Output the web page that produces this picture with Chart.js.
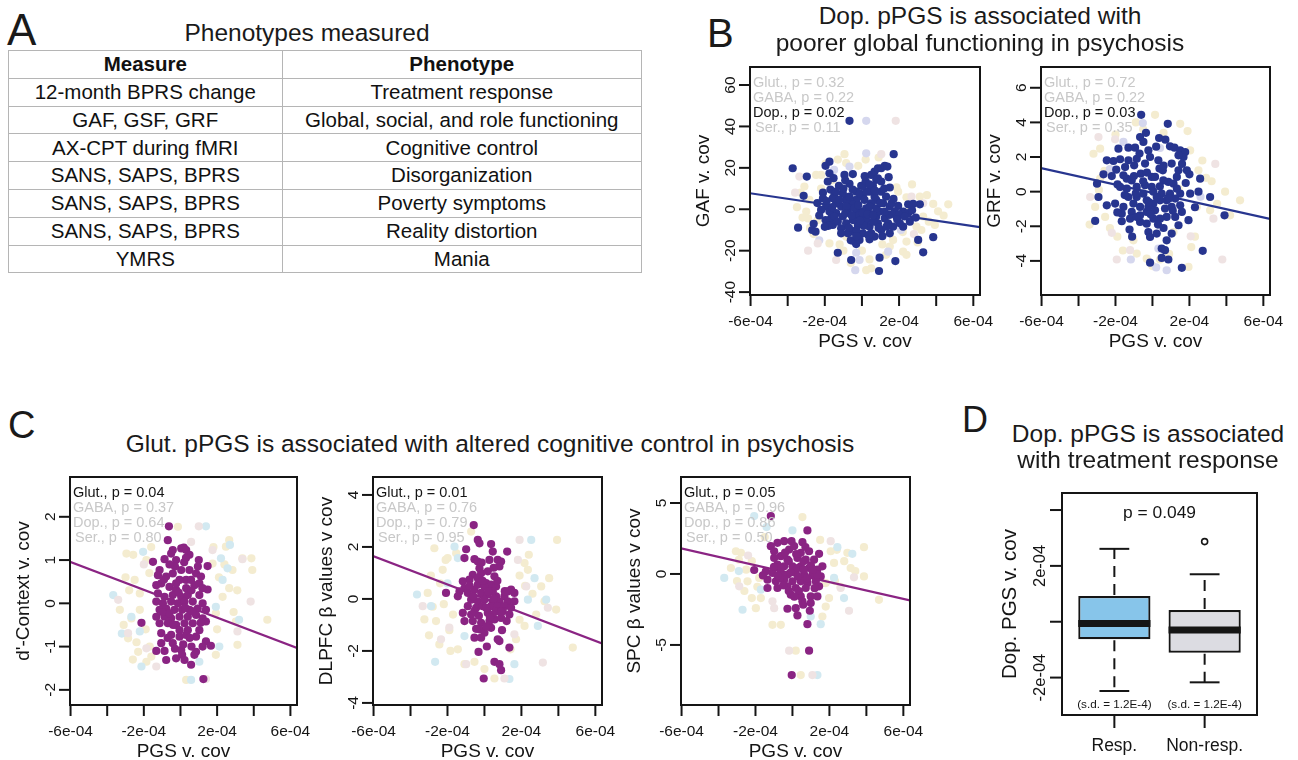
<!DOCTYPE html>
<html><head><meta charset="utf-8">
<script src="https://cdn.jsdelivr.net/npm/chart.js@4.4.1/dist/chart.umd.min.js"></script>
<style>
html,body{margin:0;padding:0;background:#fff;}
#page{position:relative;width:1298px;height:760px;overflow:hidden;font-family:"Liberation Sans",Arial,Helvetica,sans-serif;color:#1a1a1a;}
.t{position:absolute;white-space:nowrap;line-height:1;}
canvas{position:absolute;}
#tbl{position:absolute;left:8px;top:50px;width:634px;border-collapse:collapse;font-size:20.5px;color:#111;}
#tbl td{border:1.5px solid #b5b5b5;text-align:center;padding:0;height:26.8px;line-height:1;}
</style></head>
<body><div id="page">
<table id="tbl"><colgroup><col style="width:274px"><col style="width:360px"></colgroup><tbody id="tb"></tbody></table>
<canvas id="cGAF" width="320" height="305" style="left:680px;top:55px"></canvas>
<canvas id="cGRF" width="320" height="305" style="left:971px;top:55px"></canvas>
<canvas id="cC1" width="320" height="295" style="left:0px;top:465px"></canvas>
<canvas id="cC2" width="320" height="295" style="left:303px;top:465px"></canvas>
<canvas id="cC3" width="320" height="295" style="left:611px;top:465px"></canvas>
<canvas id="cD" width="338" height="280" style="left:960px;top:480px"></canvas>
</div>
<script>
// ---------------- DATA ----------------
const tableHeader = ['Measure', 'Phenotype'];
const measures = ['12-month BPRS change', 'GAF, GSF, GRF', 'AX-CPT during fMRI', 'SANS, SAPS, BPRS', 'SANS, SAPS, BPRS', 'SANS, SAPS, BPRS', 'YMRS'];
const phenotypes = ['Treatment response', 'Global, social, and role functioning', 'Cognitive control', 'Disorganization', 'Poverty symptoms', 'Reality distortion', 'Mania'];

const pathwayNames = ['Glut.', 'GABA', 'Dop.', 'Ser.'];
const pGAF = ['0.32', '0.22', '0.02', '0.11'];
const pGRF = ['0.72', '0.22', '0.03', '0.35'];
const pC1 = ['0.04', '0.37', '0.64', '0.80'];
const pC2 = ['0.01', '0.76', '0.79', '0.95'];
const pC3 = ['0.05', '0.96', '0.86', '0.50'];

const PGS_UNIT = 1e-4; // x values below are in units of 1e-4
const xTickVals = [-6e-4, -4e-4, -2e-4, 0, 2e-4, 4e-4, 6e-4];
const xTickLabels = ['-6e-04', '', '-2e-04', '', '2e-04', '', '6e-04'];
const xRange = [-6.03e-4, 6.36e-4];

// Panel B: GAF
const gafYTicks = [-40, -20, 0, 20, 40, 60];
const gafYRange = [-41.4, 68.7];
const gafDop = [[-3.73,19.8],[-2.97,15.8],[-3.14,6.5],[-3.44,-8.9],[-2.68,-10],[-2.5,-10.8],[-1.96,21],[-1.75,23],[-2.1,8],[-1.75,17.4],[-1.53,15],[-1.48,7],[-1.24,11.3],[-1.84,13.4],[-0.94,16.6],[-0.67,12.3],[-0.49,17],[-0.67,42.7],[-0.04,11.3],[0.5,16.6],[0.68,18.2],[0.86,19.8],[1.04,19.8],[1.23,21],[1.37,20.6],[1.71,26.6],[1.44,15.5],[0.77,14.2],[0.41,8.5],[-0.31,8.5],[0.05,6.1],[-1.3,-21],[-0.58,-24.5],[-0.31,-16.8],[-0.4,-15.6],[0.95,-23.4],[0.92,-29.8],[1.8,-25],[3.03,-14.8],[3.3,-20.8],[3.84,-13.5],[3.12,2.4],[2.76,2.6],[2.49,2.4],[2.58,-6],[2.22,-8.4],[1.86,-3.5],[1.95,1.6],[1.5,1.3],[1.23,-4.4],[1.04,-10],[0.68,-13.2],[0.41,-14.5],[0.23,-5.2],[-0.04,-1.1],[-0.31,4.5],[-0.58,2.9],[-0.85,4.5],[-1.12,1.3],[-1.39,-1.9],[-1.66,-4.4],[-1.93,1.3],[-1.96,-5.2],[-1.57,-7.6],[-1.12,-9.2],[-0.85,-6.8],[-0.49,-10.8],[-0.22,-7.6],[0.05,-11.6],[0.41,-8.4],[0.77,-3.5],[0.95,-1.1],[1.14,2.9],[0.77,4.5],[0.5,2.9],[0.23,0.5],[-0.13,-3.5],[-0.49,-5.2],[-0.76,-1.1],[-1.03,-3.5],[-1.39,2.9],[-1.75,-1.1],[-2.2,-0.3],[-2.1,5.3],[-1.57,5.3],[-1.03,7.7],[-0.67,6.1],[-0.13,7.7],[0.14,4.5],[0.68,6.1],[1.04,8.5],[1.3,6.1],[1.5,-2.7],[1.77,-1.1],[2.22,-1.1],[2.49,-1.9],[2.04,-6.8],[1.68,-8.4],[1.41,-6.8],[1.5,-11.6],[0.5,-11.6],[-0.13,-14.8],[-0.76,-11.6],[-1.12,-11.6],[0.23,8.5],[0.05,11.3],[0.59,11.3],[0.86,14.9],[1.04,13.4],[0.41,1.3],[-0.31,-1.9],[0.05,-1.9],[-0.85,1.3],[-1.21,4.5],[-1.48,-3.5],[-0.4,0.5],[0.77,0.5],[1.23,-1.1],[1.32,-8.4],[0.86,-6.8],[-0.2,2],[0.3,-2.5],[-0.9,-2],[0.6,-6],[1.6,3],[-1.7,9.5],[-0.3,-10],[0.2,13.5],[-1.0,10],[2.0,-2.5],[-2.4,3],[-0.6,-15],[-1.8,-8],[-1.3,-6],[-0.7,-9],[0.1,-8],[0.9,-9],[1.9,-5],[2.3,-3.5],[2.7,-0.5],[-2.3,-3],[-2.0,-8.5],[-0.5,9.5],[0.4,12],[1.2,10],[1.7,5],[-1.4,8.5],[-0.9,14],[0.15,16],[-0.1,-5.5],[0.6,-3],[1.0,3],[-0.55,-3],[-1.6,1],[0.35,-12.5],[1.1,-13],[2.9,-4],[-2.6,-7],[-0.3,-13],[0.7,9],[-1.9,4],[1.5,10.5]];
const gafGABA = [[-0.94,26.6],[-0.85,22.3],[-2.47,16.6],[-1.96,22],[-3.1,11],[-2.83,4.5],[1.86,10.6],[1.95,8.5],[2.4,5.8],[3.12,6.1],[3.84,2.6],[4.65,2.4],[3.93,-7.6],[3.3,-3.5],[2.94,-8.4],[2.4,-15.6],[2.22,-20.5],[2.4,-22],[0.41,-24.2],[0.23,-29.4],[0.5,-28.5],[-1.75,-16.5],[-0.85,-13.2],[-3.0,-1.1],[-2.9,-4.4],[-2.38,-5.2],[1.5,-18],[1.68,-14.8],[-2.2,16.6],[-3.3,8],[-1.3,24],[2.7,12],[0.9,25],[-0.2,21],[-2.6,-12],[-1.0,-20],[1.1,-17],[3.6,-6],[4.1,-1],[-3.5,1],[-2.8,-9],[-2.2,10],[2.2,-11],[3.0,-16],[3.5,6.8],[-1.2,-17],[0.0,-20],[1.3,-22],[-3.2,-4],[2.6,1],[3.2,-10],[-1.6,14],[0.2,24],[-0.6,-26],[4.4,-3]];
const gafGlut = [[0.23,42.7],[0.23,27],[-0.67,20.6],[-0.31,-21],[-0.13,-24.5],[1.41,-20.5],[-0.36,-29.4],[-1.5,19],[2.1,-10],[-2.3,-15]];
const gafSer = [[-3.37,15.8],[1.04,26.6],[1.82,42.7],[-2.38,-16.5],[-1.39,-24.5],[2.67,6.1],[3.3,2.9],[-3.6,8],[2.8,-12],[-2.9,-20]];
const gafFit = [[-6.03,7.75],[6.36,-8.65]];

// Panel B: GRF
const grfYTicks = [-4, -2, 0, 2, 4, 6];
const grfYRange = [-5.97, 7.2];
const grfDop = [[-0.61,4.44],[0.83,3.92],[-0.67,3.15],[-0.49,2.87],[0.36,3.1],[-1.84,2.48],[-1.3,2.54],[-0.94,2.54],[-2.47,1.81],[-2.11,1.77],[-1.75,1.87],[-1.3,1.81],[-0.85,1.9],[-0.13,2.0],[-0.22,2.38],[-0.4,1.62],[0.95,2.62],[1.19,2.54],[1.5,2.38],[1.77,2.29],[1.68,2.0],[1.41,2.1],[-2.65,1.0],[-1.96,1.27],[-1.48,1.42],[-0.99,1.52],[-1.39,0.75],[-0.63,1.04],[-0.04,0.85],[0.38,1.33],[0.56,1.23],[1.41,1.23],[1.86,1.23],[2.58,0.75],[2.49,0],[3.12,-0.31],[2.04,-0.12],[1.5,-0.12],[1.14,0.46],[0.86,0.56],[0.59,0.65],[-0.04,0.27],[-0.4,0.37],[-0.85,0.27],[-1.39,0.17],[-1.89,0.42],[-1.75,0.27],[-1.3,-0.31],[-0.85,-0.31],[-0.49,-0.12],[0.05,0],[0.5,-0.12],[0.95,-0.12],[1.32,0.17],[1.23,-0.4],[0.77,-0.5],[0.41,-0.5],[0.05,-0.69],[-0.31,-0.5],[-0.67,-0.88],[-1.03,-0.69],[-1.57,-0.88],[-2.02,-0.69],[-2.92,-0.31],[-3.1,-1.69],[-2.47,-0.79],[-1.66,-1.27],[-1.12,-1.17],[-0.67,-1.37],[-0.31,-1.17],[0.14,-1.08],[0.68,-0.98],[1.04,-0.88],[1.5,-0.79],[1.59,-1.17],[1.95,-1.65],[1.23,-1.46],[0.77,-1.46],[0.41,-1.56],[0.05,-1.56],[-0.31,-1.85],[-0.67,-1.75],[-1.21,-1.56],[-1.66,-1.71],[-1.24,-2.19],[-0.85,-1.46],[-0.22,-2.33],[-0.13,-2.62],[0.23,-2.42],[0.77,-2.81],[0.5,-3.29],[0.68,-3.38],[0.5,-3.83],[0.86,-3.92],[-0.13,-4.1],[1.59,-4.4],[2.72,-3.42],[3.9,-1.37],[1.41,-1.94],[1.04,-2.42],[-3.0,0.46],[-1.57,0.94],[0.32,1.81],[1.04,1.62],[0.14,0.85],[1.32,0.85],[-1.12,0.65],[0.23,-0.31],[-0.22,-0.88],[-0.3,1.1],[0.6,1.5],[-1.0,0.9],[-0.2,-0.6],[0.3,-1.9],[-0.9,-0.1],[0.9,-0.4],[1.8,0.5],[-1.5,-0.2],[-2.2,0.9],[0.2,2.6],[-0.7,2.2],[1.1,-1.1],[-0.1,-1.3],[0.6,-2.1],[-1.9,-1.2],[2.3,-0.9],[-0.5,0.6],[0.4,0.3],[1.6,1.6],[-1.1,-2.6],[2.0,1.0],[-0.35,3.4],[0.7,3.0]];
const grfGABA = [[0.14,4.44],[1.5,3.92],[-3.19,2.19],[-2.83,2.48],[2.04,2.38],[2.49,1.23],[3.93,0],[4.74,-0.5],[4.2,-1.37],[3.12,-1.08],[2.4,-0.88],[-2.56,-1.46],[-3.1,-0.88],[-2.83,0.75],[-1.03,-2.81],[-0.85,-3.58],[1.14,-2.33],[1.95,-4.35],[-0.31,-3.87],[0.41,-3.92],[1.41,0.17],[-2.0,3.3],[0.6,3.4],[2.9,0.8],[-3.4,-1.9],[-1.9,-2.6],[2.3,-2.6],[-0.5,3.6],[-2.6,1.2],[-2.9,0.1],[2.7,1.8],[3.5,-0.7],[-1.6,-3.4],[0.9,-3.6],[2.1,-3.2],[-0.9,4.0],[1.9,3.5],[3.2,0.6],[-2.3,-2.1],[0.0,-4.3]];
const grfGlut = [[-0.52,3.96],[-1.57,2.87],[0.41,2.52],[0.32,-3.29],[-1.17,-3.92],[0.2,-4.38],[0.77,-4.54],[-2.3,1.3],[2.6,-0.3]];
const grfSer = [[-3.37,-0.31],[-2.92,3.15],[-2.02,3.02],[-2.2,-2.38],[-1.93,-3.92],[2.07,-2.58],[3.3,-1.56],[3.78,-3.92],[-1.21,-3.38],[3.4,1.6]];
const grfFit = [[-6.03,1.36],[6.36,-1.57]];

// Panel C1: d'-Context
const c1YTicks = [-2, -1, 0, 1, 2];
const c1YRange = [-2.35, 2.92];
const c1Glut = [[-0.63,1.78],[-0.69,1.46],[-1.5,0.96],[-0.87,1.02],[-1.14,0.77],[-0.51,1.15],[-0.24,1.0],[0.04,1.27],[0.18,1.29],[0.31,1.23],[-0.42,1.23],[1.0,1.0],[0.49,1.12],[1.48,0.86],[-1.23,0.65],[-0.78,0.62],[-0.42,0.69],[0.04,0.77],[0.49,0.77],[0.85,0.69],[1.12,0.62],[0.31,0.54],[-0.05,0.54],[-1.05,0.46],[-0.6,0.38],[-0.24,0.31],[0.31,0.35],[0.76,0.42],[1.48,0.32],[-1.23,0.23],[-0.87,0.15],[-0.42,0.19],[0.04,0.15],[0.4,0.19],[1.03,0.19],[-1.32,0.04],[-0.96,0],[-0.51,0.04],[-0.14,0],[0.22,0.04],[0.67,0.04],[1.21,0],[-1.14,-0.15],[-0.78,-0.12],[-0.33,-0.15],[0.09,-0.15],[0.49,-0.15],[0.94,-0.12],[1.39,-0.15],[-1.32,-0.31],[-0.87,-0.31],[-0.51,-0.35],[-0.05,-0.31],[0.4,-0.31],[0.85,-0.27],[1.21,-0.35],[-1.14,-0.46],[-0.69,-0.46],[-0.24,-0.5],[0.22,-0.46],[0.67,-0.46],[1.39,-0.42],[-2.13,-0.45],[-0.05,-0.62],[0.4,-0.62],[1.03,-0.62],[-1.05,-0.69],[-0.51,-0.73],[-0.05,-0.77],[0.31,-0.73],[0.85,-0.77],[1.39,-0.88],[1.66,-0.98],[1.21,-1.0],[-1.05,-0.92],[-1.32,-1.1],[-0.87,-1.1],[-0.78,-1.31],[-0.24,-1.27],[0.04,-1.08],[0.09,-1.19],[0.22,-1.31],[0.58,-1.42],[0.85,-1.12],[0.76,-1.19],[1.25,-1.75],[-0.42,-0.92],[-0.6,-0.23],[-0.24,0.46],[0.58,0.54],[1.03,0.46],[0.67,-0.19],[-1.32,0.42],[-0.3,0.85],[0.2,0.95],[-0.9,0.55],[0.6,0.3],[-0.4,-0.5],[0.15,-0.95],[0.6,-1.0],[-0.7,-0.8],[1.2,0.35],[-0.1,0.25],[0.5,-0.8],[-1.0,-0.2],[0.95,0.85],[-0.3,-1.05],[0.3,1.05],[-0.6,0.9],[1.1,-0.45],[0.25,-0.1]];
const c1GABA = [[-2.95,1.15],[-2.58,1.12],[-1.86,1.0],[-2.5,0.54],[-2.22,0.23],[-3.31,-0.15],[-2.68,-0.35],[-2.86,-0.81],[-2.31,-1.12],[-1.86,-1.35],[-1.68,-1.0],[-1.59,-1.23],[-0.14,1.77],[1.75,0.92],[2.66,1.46],[2.48,1.31],[2.84,0.77],[3.38,1.04],[3.87,1.04],[3.92,0.77],[2.66,0.35],[2.3,0.15],[3.02,-0.42],[3.11,-0.96],[1.93,-1.19],[4.74,-0.38],[0.31,-1.77],[-2.22,-0.15],[1.93,-0.23],[-3.0,0.6],[-1.9,-0.6],[2.1,0.6],[-1.6,1.3],[-2.8,0.3],[-3.1,-0.5],[-2.4,-0.9],[2.4,0.9],[3.1,0.3],[2.0,-0.6],[-1.7,0.7],[2.9,-0.2],[-2.6,-1.3],[1.8,1.3]];
const c1Ser = [[1.39,1.78],[-2.04,1.19],[-3.67,0.19],[-2.68,-0.31],[-2.22,-0.65],[-2.13,-1.46],[2.57,0.81],[2.21,1.04],[2.3,0.54],[3.2,-0.38],[2.12,-1.0],[0.58,-1.77],[1.03,-1.35],[1.93,-0.08],[2.7,1.35],[-3.2,-0.7]];
const c1Dop = [[1.0,1.78],[0.58,1.42],[1.75,1.23],[3.38,1.02],[-3.4,0.08],[-2.86,-0.69],[-1.32,-1.46],[1.39,-1.75],[3.11,-0.65],[3.83,0.04],[-1.86,-1.04],[-2.0,0.9]];
const c1Fit = [[-6.03,0.96],[6.36,-1.03]];

// Panel C2: DLPFC
const c2YTicks = [-4, -2, 0, 2, 4];
const c2YRange = [-4.08, 4.69];
const c2Glut = [[-0.58,2.84],[-0.36,2.27],[-0.27,2.14],[0.36,2.11],[0.45,1.82],[1.23,1.82],[-0.99,1.91],[-1.08,1.57],[-0.54,1.53],[-0.36,1.44],[0.27,1.5],[0.72,1.5],[0.9,1.44],[0.81,1.25],[-0.27,1.18],[-0.18,0.99],[0.18,1.06],[0.54,0.87],[-0.63,0.93],[-0.81,0.74],[-1.17,0.68],[-0.36,0.55],[0.09,0.61],[0.36,0.55],[0.63,0.48],[-1.08,0.42],[-1.35,0.29],[-2.08,0.23],[-1.44,0.1],[-0.9,0.23],[-0.54,0.36],[-0.18,0.23],[0.18,0.17],[0.63,0.1],[1.08,0.1],[1.44,0.36],[1.26,0.29],[1.62,0.23],[-0.72,-0.03],[-0.36,-0.09],[0,-0.03],[0.45,-0.09],[0.81,-0.09],[1.26,-0.09],[1.62,-0.09],[-0.9,-0.28],[-0.45,-0.34],[-0.09,-0.28],[0.36,-0.28],[0.72,-0.28],[1.08,-0.28],[1.44,-0.34],[-1.17,-0.54],[-0.72,-0.6],[0.18,-0.54],[0.63,-0.47],[0.99,-0.47],[1.35,-0.6],[-1.08,-0.85],[-0.63,-0.85],[-0.18,-0.92],[0.27,-0.85],[0.54,-0.79],[0.9,-0.73],[0.36,-1.11],[-0.27,-1.17],[0,-1.3],[-0.54,-1.49],[-0.18,-1.49],[0.72,-1.55],[0.81,-1.62],[1.35,-1.87],[-0.32,-2.04],[0.13,-1.83],[0.54,-2.42],[0.81,-2.51],[0.9,-2.74],[-0.04,-3.06],[0,0.48],[-0.36,0.8],[0.45,0.29],[0.09,-0.34],[0.45,-0.6],[-0.54,-0.47],[0.2,0.3],[-0.1,0.7],[0.5,0.0],[-0.6,0.1],[0.9,-0.5],[0.3,-0.7],[-0.3,-0.65],[1.1,0.3],[0.7,0.7],[-0.8,0.5],[0.1,-1.05],[1.2,-0.85],[-0.15,1.4],[0.5,1.2],[-0.45,-1.15],[0.95,-1.2]];
const c2GABA = [[-2.71,1.95],[-1.99,1.57],[-2.26,1.12],[-3.07,0.23],[-3.25,-0.79],[-2.62,-0.85],[-2.44,-1.75],[-1.84,-2.0],[-1.44,-1.94],[-1.08,-2.51],[-0.54,-2.42],[0,-2.7],[0.54,-3.06],[1.41,-1.94],[1.71,-1.55],[2.17,-1.04],[2.17,1.38],[2.35,1.12],[3.07,0.48],[3.25,-0.09],[3.88,-0.41],[3.93,2.27],[4.78,-1.87],[-0.72,2.59],[-1.53,1.76],[-2.9,0.9],[-1.7,-0.6],[2.6,0.2],[1.9,0.9],[-2.2,-0.2],[-2.4,0.6],[-2.8,-0.3],[2.2,0.5],[2.8,-0.6],[-1.9,-1.2],[1.9,-0.8],[2.4,1.7],[-2.1,1.5],[3.5,0.8],[-3.0,-1.4]];
const c2Ser = [[2.53,2.27],[-1.62,2.01],[-1.44,1.57],[-3.65,0.17],[-2.89,-0.28],[-2.67,-2.42],[-1.08,-1.43],[1.62,-2.51],[1.35,-3.08],[2.71,0.8],[3.34,-0.03],[2.89,-1.04],[2.35,-0.03],[-2.0,0.6]];
const c2Dop = [[1.9,2.27],[1.81,1.5],[-3.34,-0.28],[-2.35,-1.55],[-0.99,-2.51],[1.08,-3.06],[1.62,-1.36],[3.43,-0.34],[3.16,-2.45],[2.26,0.48],[-1.9,-1.1]];
const c2Fit = [[-6.03,1.65],[6.36,-1.71]];

// Panel C3: SPC
const c3YTicks = [-5, 0, 5];
const c3YRange = [-9.23, 6.83];
const c3Glut = [[-1.17,4.08],[0.81,3.07],[-0.81,2.19],[-0.45,2.31],[-0.05,2.31],[0.54,2.24],[-1.17,1.96],[-0.99,1.6],[-0.18,1.72],[0.09,1.96],[0.45,1.49],[0.9,1.6],[1.44,1.42],[-0.63,1.25],[-0.27,1.01],[0.27,1.13],[0.72,1.01],[1.17,1.01],[1.62,0.54],[-0.81,0.66],[-0.45,0.54],[0,0.54],[0.45,0.54],[0.9,0.42],[1.35,0.31],[-2.07,0.28],[-1.44,0.19],[-1.08,0.07],[-0.63,0.07],[-0.27,-0.05],[0.18,0.07],[0.63,-0.05],[1.08,-0.05],[1.53,-0.17],[-1.35,-0.4],[-0.9,-0.52],[-0.45,-0.4],[0,-0.52],[0.45,-0.52],[0.81,-0.64],[1.26,-0.52],[-1.35,-0.99],[-0.81,-0.99],[-0.27,-0.87],[0.18,-0.99],[0.72,-0.99],[1.44,-0.87],[-0.09,-1.46],[0.45,-1.58],[0.99,-1.58],[1.35,-1.58],[0.54,-1.93],[0.99,-2.05],[-0.27,-2.45],[0.18,-2.41],[0.94,-2.59],[0.58,-2.17],[0.27,-2.92],[0.81,-3.54],[0.9,-5.4],[-0.04,-7.12],[-0.63,0.42],[0.27,0.42],[-0.99,1.13],[1.35,-0.05],[-0.2,0.9],[0.3,-0.2],[-0.7,-0.3],[1.0,0.6],[-1.6,-0.1],[0.6,0.9],[-0.4,1.5],[0.2,1.4],[0.6,0.3],[-0.1,0.1],[0.8,-0.3],[-0.5,-0.8],[0.35,-1.2],[1.1,0.3],[-1.0,0.5],[0.1,-1.6],[1.2,-1.0],[-0.2,-1.2],[0.7,1.9],[-0.8,-0.1]];
const c3GABA = [[0.54,4.01],[-3.06,1.6],[-2.79,1.49],[-3.33,0.42],[-2.43,-0.52],[-1.8,-0.28],[-1.71,-1.7],[-1.98,-2.41],[-1.08,-3.58],[-0.63,-3.58],[0.45,-7.12],[0.18,-5.4],[1.62,-3.0],[1.98,-1.7],[1.8,-0.64],[2.25,0.78],[2.97,1.49],[3.15,0.42],[3.87,1.89],[3.87,-0.17],[4.68,-1.82],[2.07,1.6],[-2.2,0.9],[-2.6,-1.2],[1.5,2.4],[2.6,-0.9],[-1.5,2.6],[-2.5,0.3],[-2.9,1.0],[2.3,-0.5],[2.8,0.9],[-1.9,-0.9],[1.8,-2.3],[3.4,0.2],[-2.2,-1.7],[2.4,1.7],[-3.0,-0.5]];
const c3Ser = [[-2.07,4.08],[0,3.07],[-3.69,-0.28],[-2.7,-2.52],[-1.71,-1.11],[0.99,-3.0],[1.53,-3.54],[1.35,-7.12],[2.43,1.89],[3.24,1.42],[2.79,-1.7],[2.25,-0.28],[-1.4,3.3],[-2.9,0.2]];
const c3Dop = [[2.07,2.31],[-2.88,-0.87],[-0.99,-2.41],[-0.18,-5.4],[1.08,-7.12],[3.06,-2.59],[2.61,-0.99],[3.33,-0.24],[-1.08,-1.93],[-2.4,1.3]];
const c3Fit = [[-6.03,1.81],[6.36,-1.86]];

// Panel D: boxplot
const groups = ['Resp.', 'Non-resp.'];
const boxQ1 = [-0.63e-4, -1.11e-4];
const boxMedian = [-0.06e-4, -0.30e-4];
const boxQ3 = [0.92e-4, 0.42e-4];
const whiskerLow = [-2.48e-4, -2.17e-4];
const whiskerHigh = [2.61e-4, 1.70e-4];
const outliers = [{ group: 2, value: 2.87e-4 }];
const groupSD = ['(s.d. = 1.2E-4)', '(s.d. = 1.2E-4)'];
const dPValue = 'p = 0.049';
const dYTicks = [-2e-4, 0, 2e-4, 4e-4];
const dYTickLabels = ['-2e-04', '', '2e-04', ''];
const dYRange = [-3.34e-4, 4.61e-4];

// ---------------- RENDER ----------------
const FONT = '"Liberation Sans", Arial, Helvetica, sans-serif';
const INK = '#151515';
const GRAY = '#c8c8c8';
const page = document.getElementById('page');

function placeText(txt, x, baseline, size, align) {
  const d = document.createElement('div');
  d.className = 't'; d.textContent = txt;
  d.style.fontSize = size + 'px';
  d.style.top = (baseline - 0.8465 * size) + 'px';
  if (align === 'center') { d.style.left = (x - 400) + 'px'; d.style.width = '800px'; d.style.textAlign = 'center'; }
  else d.style.left = x + 'px';
  page.appendChild(d);
}
placeText('A', 7, 45, 44);
placeText('Phenotypes measured', 307, 42, 24.5, 'center');
placeText('B', 707, 47, 40);
placeText('Dop. pPGS is associated with', 980, 25, 24.5, 'center');
placeText('poorer global functioning in psychosis', 980, 52, 24.5, 'center');
placeText('C', 8, 438, 38);
placeText('Glut. pPGS is associated with altered cognitive control in psychosis', 490, 453, 24.5, 'center');
placeText('D', 962, 432, 36);
placeText('Dop. pPGS is associated', 1148, 443, 24.5, 'center');
placeText('with treatment response', 1148, 469, 24.5, 'center');

// table
const tb = document.getElementById('tb');
[tableHeader].concat(measures.map((m, i) => [m, phenotypes[i]])).forEach((row, r) => {
  const tr = document.createElement('tr');
  row.forEach(c => { const td = document.createElement('td'); td.textContent = c; if (r === 0) td.style.fontWeight = 'bold'; tr.appendChild(td); });
  tb.appendChild(tr);
});

const toXY = pts => pts.map(p => ({ x: p[0] * PGS_UNIT, y: p[1] }));

function line(ctx, x1, y1, x2, y2) { ctx.beginPath(); ctx.moveTo(x1, y1); ctx.lineTo(x2, y2); ctx.stroke(); }

function rAxes(spec) {
  return {
    id: 'rAxes',
    afterDatasetsDraw(chart) {
      const ctx = chart.ctx, a = chart.chartArea, xs = chart.scales.x, ys = chart.scales.y;
      ctx.save();
      ctx.strokeStyle = INK; ctx.fillStyle = INK; ctx.lineWidth = 2;
      ctx.strokeRect(a.left, a.top, a.right - a.left, a.bottom - a.top);
      ctx.font = '15.5px ' + FONT; ctx.textAlign = 'center'; ctx.textBaseline = 'middle';
      xTickVals.forEach((v, i) => {
        const px = xs.getPixelForValue(v);
        line(ctx, px, a.bottom, px, a.bottom + 11);
        if (xTickLabels[i]) ctx.fillText(xTickLabels[i], px, a.bottom + 27);
      });
      spec.yTicks.forEach(v => {
        const py = ys.getPixelForValue(v);
        line(ctx, a.left, py, a.left - 11, py);
        ctx.save(); ctx.translate(a.left - 19, py); ctx.rotate(-Math.PI / 2); ctx.fillText(String(v), 0, 0); ctx.restore();
      });
      ctx.font = '19px ' + FONT;
      ctx.fillText('PGS v. cov', (a.left + a.right) / 2, a.bottom + 47);
      ctx.save(); ctx.translate(a.left - 46, (a.top + a.bottom) / 2); ctx.rotate(-Math.PI / 2); ctx.fillText(spec.yTitle, 0, 0); ctx.restore();
      ctx.textAlign = 'left'; ctx.font = '14.5px ' + FONT;
      pathwayNames.forEach((n, i) => {
        ctx.fillStyle = i === spec.sig ? INK : GRAY;
        ctx.fillText(n + ', p = ' + spec.p[i], a.left + 3 + (i === 3 ? 2 : 0), a.top + 15.5 + i * 15);
      });
      ctx.restore();
    }
  };
}

const PT_R = 4.1;
function makeScatter(id, spec) {
  const ds = [];
  spec.bg.forEach((s, i) => ds.push({ data: toXY(s[0]), backgroundColor: s[1], borderWidth: 0, pointBorderWidth: 0, pointRadius: PT_R, order: 10 - i }));
  ds.push({ type: 'line', data: toXY(spec.fit), borderColor: spec.color, borderWidth: 2.2, pointRadius: 0, showLine: true, fill: false, order: 1 });
  ds.push({ data: toXY(spec.main), backgroundColor: spec.color, borderWidth: 0, pointBorderWidth: 0, pointRadius: PT_R, order: 0 });
  new Chart(document.getElementById(id), {
    type: 'scatter',
    data: { datasets: ds },
    options: {
      responsive: false, animation: false, events: [], devicePixelRatio: 1,
      layout: { padding: spec.pad },
      plugins: { legend: { display: false }, tooltip: { enabled: false } },
      scales: {
        x: { type: 'linear', display: false, min: xRange[0], max: xRange[1] },
        y: { type: 'linear', display: false, min: spec.yRange[0], max: spec.yRange[1] }
      }
    },
    plugins: [rAxes(spec)]
  });
}

const NAVY = '#27358f', PURPLE = '#8a2483';
const BEIGE = '#f4ecd0', LAV = '#d5d7ee', PINK = '#efe3e3', CYAN = '#d2e9f1';

makeScatter('cGAF', { main: gafDop, bg: [[gafGABA, BEIGE], [gafGlut, LAV], [gafSer, PINK]], fit: gafFit, color: NAVY,
  yTicks: gafYTicks, yRange: gafYRange, yTitle: 'GAF v. cov', p: pGAF, sig: 2, pad: { left: 70, top: 12, right: 20, bottom: 65 } });
makeScatter('cGRF', { main: grfDop, bg: [[grfGABA, BEIGE], [grfGlut, LAV], [grfSer, PINK]], fit: grfFit, color: NAVY,
  yTicks: grfYTicks, yRange: grfYRange, yTitle: 'GRF v. cov', p: pGRF, sig: 2, pad: { left: 70, top: 12, right: 21, bottom: 65 } });
makeScatter('cC1', { main: c1Glut, bg: [[c1GABA, BEIGE], [c1Ser, CYAN], [c1Dop, PINK]], fit: c1Fit, color: PURPLE,
  yTicks: c1YTicks, yRange: c1YRange, yTitle: "d'-Context v. cov", p: pC1, sig: 0, pad: { left: 70, top: 12, right: 23, bottom: 55 } });
makeScatter('cC2', { main: c2Glut, bg: [[c2GABA, BEIGE], [c2Ser, CYAN], [c2Dop, PINK]], fit: c2Fit, color: PURPLE,
  yTicks: c2YTicks, yRange: c2YRange, yTitle: 'DLPFC \u03b2 values v cov', p: pC2, sig: 0, pad: { left: 70, top: 12, right: 21, bottom: 55 } });
makeScatter('cC3', { main: c3Glut, bg: [[c3GABA, BEIGE], [c3Ser, CYAN], [c3Dop, PINK]], fit: c3Fit, color: PURPLE,
  yTicks: c3YTicks, yRange: c3YRange, yTitle: 'SPC \u03b2 values v cov', p: pC3, sig: 0, pad: { left: 70, top: 12, right: 21, bottom: 55 } });

// Panel D boxplot
const boxPlugin = {
  id: 'rBox',
  afterDatasetsDraw(chart) {
    const ctx = chart.ctx, a = chart.chartArea, xs = chart.scales.x, ys = chart.scales.y;
    ctx.save(); ctx.strokeStyle = INK; ctx.fillStyle = INK;
    groups.forEach((g, i) => {
      const cx = xs.getPixelForValue(i + 1);
      const capHalf = xs.getPixelForValue(i + 1 + 0.165) - cx;
      const boxHalf = xs.getPixelForValue(i + 1 + 0.4) - cx;
      const yq1 = ys.getPixelForValue(boxQ1[i]), yq3 = ys.getPixelForValue(boxQ3[i]);
      const ylo = ys.getPixelForValue(whiskerLow[i]), yhi = ys.getPixelForValue(whiskerHigh[i]);
      ctx.lineWidth = 2; ctx.setLineDash([11, 7]);
      line(ctx, cx, yq3 - 1, cx, yhi);
      line(ctx, cx, yq1 + 1, cx, ylo);
      ctx.setLineDash([]);
      line(ctx, cx - capHalf, yhi, cx + capHalf, yhi);
      line(ctx, cx - capHalf, ylo, cx + capHalf, ylo);
      ctx.lineWidth = 7;
      const ym = ys.getPixelForValue(boxMedian[i]);
      line(ctx, cx - boxHalf, ym, cx + boxHalf, ym);
      ctx.lineWidth = 2;
      line(ctx, cx, a.bottom, cx, a.bottom + 13);
      ctx.font = '17.5px ' + FONT; ctx.textAlign = 'center'; ctx.textBaseline = 'middle';
      ctx.fillText(g, cx, a.bottom + 31);
      ctx.font = '11.7px ' + FONT;
      ctx.fillText(groupSD[i], cx, a.bottom - 10);
    });
    ctx.lineWidth = 2;
    ctx.strokeRect(a.left, a.top, a.right - a.left, a.bottom - a.top);
    ctx.font = '16.5px ' + FONT; ctx.textAlign = 'center'; ctx.textBaseline = 'middle';
    dYTicks.forEach((v, i) => {
      const py = ys.getPixelForValue(v);
      line(ctx, a.left, py, a.left - 12, py);
      if (dYTickLabels[i]) { ctx.save(); ctx.translate(a.left - 22, py); ctx.rotate(-Math.PI / 2); ctx.fillText(dYTickLabels[i], 0, 0); ctx.restore(); }
    });
    ctx.font = '17.4px ' + FONT;
    ctx.fillText(dPValue, xs.getPixelForValue(1.5), a.top + 20);
    ctx.font = '20.5px ' + FONT;
    ctx.save(); ctx.translate(a.left - 52, (a.top + a.bottom) / 2); ctx.rotate(-Math.PI / 2); ctx.fillText('Dop. PGS v. cov', 0, 0); ctx.restore();
    ctx.restore();
  }
};

new Chart(document.getElementById('cD'), {
  type: 'bar',
  data: { datasets: [
    { type: 'bar', data: groups.map((g, i) => ({ x: i + 1, y: [boxQ1[i], boxQ3[i]] })),
      backgroundColor: ['#87c5ea', '#dcdce2'], borderColor: INK, borderWidth: 2.2, borderSkipped: false,
      barPercentage: 0.8, categoryPercentage: 1, order: 1 },
    { type: 'scatter', data: outliers.map(o => ({ x: o.group, y: o.value })), pointRadius: 3, backgroundColor: 'rgba(0,0,0,0)',
      borderColor: INK, pointBorderColor: INK, pointBorderWidth: 1.6, order: 0 }
  ]},
  options: {
    responsive: false, animation: false, events: [], devicePixelRatio: 1,
    layout: { padding: { left: 102, top: 13, right: 41, bottom: 45 } },
    plugins: { legend: { display: false }, tooltip: { enabled: false } },
    scales: {
      x: { type: 'linear', display: false, offset: false, min: 0.42, max: 2.58,
           afterBuildTicks: s => { s.ticks = groups.map((g, i) => ({ value: i + 1 })); } },
      y: { type: 'linear', display: false, min: dYRange[0], max: dYRange[1] }
    }
  },
  plugins: [boxPlugin]
});
</script>
</body></html>
